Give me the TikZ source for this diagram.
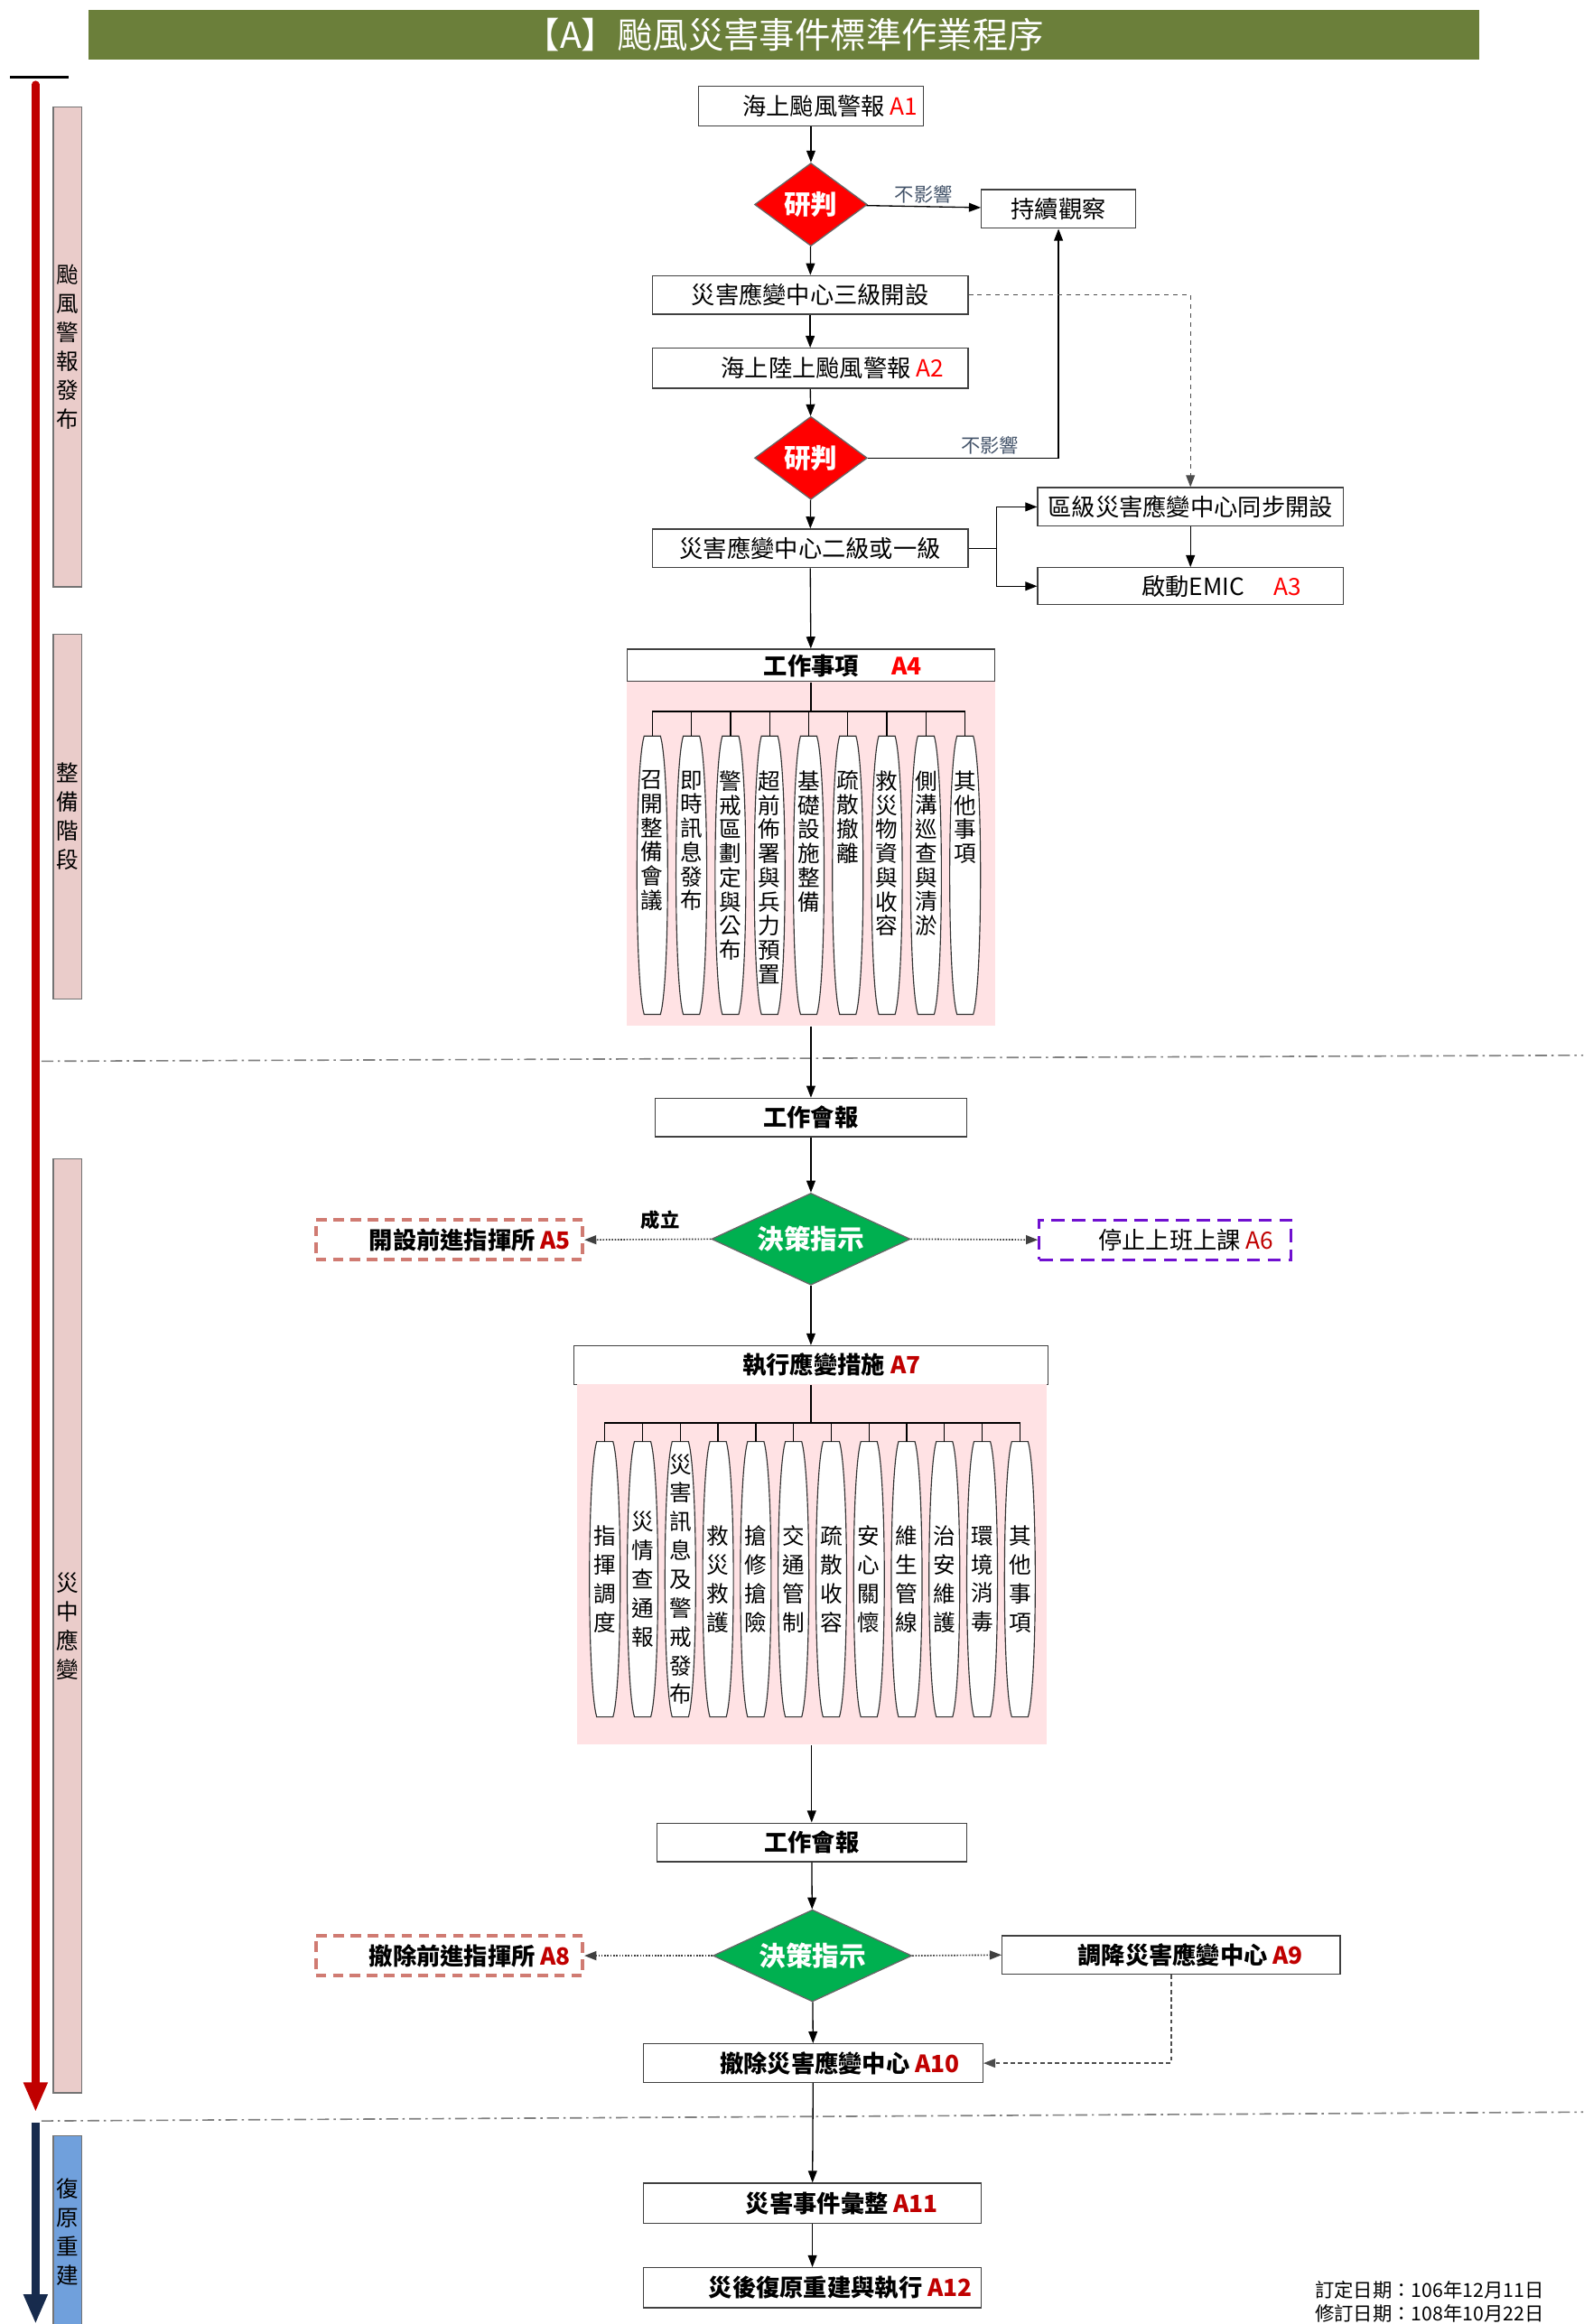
\documentclass[tikz,border=0pt]{standalone}
\usepackage{fontspec}
\setmainfont{Noto Sans CJK TC}
\usetikzlibrary{arrows.meta,shapes.geometric,positioning}

\XeTeXlinebreaklocale "zh"
\XeTeXlinebreakskip=0pt plus 1pt

\definecolor{titlegreen}{RGB}{107,127,58}
\definecolor{deepred}{RGB}{192,0,0}
\definecolor{navyblue}{RGB}{23,43,77}
\definecolor{phasepink}{RGB}{234,204,202}
\definecolor{phaseblue}{RGB}{112,160,220}
\definecolor{areapink}{RGB}{255,226,228}
\definecolor{decgreen}{RGB}{0,176,80}
\definecolor{salmon}{RGB}{208,123,114}
\definecolor{dashpurple}{RGB}{112,16,208}
\definecolor{notegray}{RGB}{68,84,106}

\newcommand{\codeA}[1]{\textcolor{red}{#1}}
\newcommand{\codeB}[1]{\textcolor{deepred}{#1}}
% barrel outline round an item node
\newcommand{\barrel}[1]{\draw[itemline] ([xshift=-5.5pt]#1.north) .. controls ([xshift=-12pt,yshift=-22pt]#1.north) and ([xshift=-12pt,yshift=22pt]#1.south) .. ([xshift=-5.5pt]#1.south) -- ([xshift=5.5pt]#1.south) .. controls ([xshift=12pt,yshift=22pt]#1.south) and ([xshift=12pt,yshift=-22pt]#1.north) .. ([xshift=5.5pt]#1.north) -- cycle;}

\tikzset{
	box/.style={draw=black!75, fill=white, line width=0.8pt, inner sep=0pt, minimum height=26pt, font=\fontsize{16}{18}\selectfont},
	boldbox/.style={box, font=\fontsize{16}{18}\selectfont\bfseries},
	tagged/.style={execute at begin node={\hspace*{#1}}},
	cmdbox/.style={boldbox, draw=salmon, line width=2.4pt, dash pattern=on 7pt off 4.5pt},
	judge/.style={diamond, aspect=1.4, draw=black!60, fill=red, text=white, inner sep=0pt, minimum width=76pt, minimum height=56pt, font=\fontsize{18}{20}\selectfont\bfseries},
	decide/.style={judge, aspect=2, fill=decgreen, minimum width=134pt, minimum height=62pt},
	area/.style={fill=areapink, inner sep=0pt},
	item/.style={minimum width=21pt, inner sep=0pt},
	itemline/.style={draw=black!80, fill=white, line width=0.7pt},
	itemtext/.style={text width=16pt, align=center, inner sep=0pt, font=\fontsize{15}{16.3}\selectfont},
	phase/.style={draw=black!55, fill=phasepink, minimum width=19pt, inner sep=0pt, text width=16pt, align=center, font=\fontsize{15}{19.5}\selectfont},
	note/.style={text=notegray, font=\fontsize{13}{15}\selectfont, inner sep=2pt},
	sep/.style={draw=black!50, line width=1pt, dash pattern=on 8pt off 3pt on 1.5pt off 3pt},
	dotlink/.style={->, densely dotted, line width=1pt, draw=black!75},
}

\begin{document}
\begin{tikzpicture}[x=1pt, y=-1pt, line width=0.8pt, >={Triangle[length=8pt,width=6pt]}]
	\useasboundingbox (0,0) rectangle (1068,1568);
	\node[fill=titlegreen, text=white, minimum width=938pt, minimum height=33pt, inner sep=0pt, font=\fontsize{24}{26}\selectfont] (title) at (529,23.5) {【A】颱風災害事件標準作業程序};

	% time line and phases
	\draw[line width=1.5pt] (7,52) -- (46,52);
	\draw[deepred, line width=5pt, line cap=round, -{Triangle[length=20pt,width=15pt]}] (24,57) -- (24,1425);
	\draw[navyblue, line width=5pt, -{Triangle[length=20pt,width=15pt]}] (24,1432) -- (24,1568);
	\node[phase, minimum height=324pt] (ph1) at (45.5,234) {颱風警報發布};
	\node[phase, minimum height=246pt] (ph2) at (45.5,551) {整備階段};
	\node[phase, minimum height=630pt] (ph3) at (45.5,1097) {災中應變};
	\node[phase, fill=phaseblue, minimum height=130pt] (ph4) at (45.5,1506) {復原重建};
	\draw[sep] (28,716) -- (1068,712);
	\draw[sep] (28,1431) -- (1068,1425);

	% warning stage
	\node[box, tagged=26pt, minimum width=152pt, minimum height=27pt] (a1) at (547,71.5) {海上颱風警報 \codeA{A1}};
	\node[judge] (j1) at (547,138) {研判};
	\node[box, minimum width=104pt] (chk) at (714,141) {持續觀察};
	\node[box, minimum width=213pt] (l3) at (546.5,199) {災害應變中心三級開設};
	\node[box, tagged=30pt, minimum width=213pt, minimum height=27pt] (a2) at (546.5,248.5) {海上陸上颱風警報 \codeA{A2}};
	\node[judge] (j2) at (547,309) {研判};
	\node[box, minimum width=213pt] (l2) at (546.5,370) {災害應變中心二級或一級};
	\node[box, minimum width=206pt] (dist) at (803,342) {區級災害應變中心同步開設};
	\node[box, tagged=42pt, minimum width=206pt, minimum height=25pt] (a3) at (803,395.5) {啟動EMIC\hspace{20pt}\codeA{A3}};

	% preparation
	\node[boldbox, tagged=43pt, minimum width=248pt, minimum height=22pt] (a4) at (547,449) {工作事項\hspace{22pt}\codeA{A4}};
	\node[area, minimum width=248pt, minimum height=232pt] (bg1) at (547,576) {};
	\coordinate (a4bar) at (547,480);
	\foreach \txt [count=\i] in {召開整備會議,即時訊息發布,警戒區劃定與公布,超前佈署與兵力預置,基礎設施整備,疏散撤離,救災物資與收容,側溝巡查與清淤,其他事項}
	{
		\node[item, minimum height=187pt] (w\i) at ({440+(\i-1)*26.375},590.5) {};
		\barrel{w\i}
		\node[itemtext, anchor=north] at ([yshift=-23pt]w\i.north) {\txt};
		\draw (w\i.north) |- (a4bar);
	}
	\draw (a4) -- (a4bar);

	% response
	\node[boldbox, minimum width=210pt] (work1) at (547,754) {工作會報};
	\node[decide] (dec1) at (547,836) {決策指示};
	\node[cmdbox, tagged=28pt, minimum width=180pt, minimum height=27pt] (a5) at (303,836.5) {開設前進指揮所 \codeB{A5}};
	\node[box, draw=dashpurple, line width=1.8pt, dash pattern=on 9pt off 5pt, tagged=28pt, minimum width=170pt, minimum height=27pt] (a6) at (786,836.5) {停止上班上課 \codeB{A6}};
	\node[boldbox, tagged=28pt, minimum width=320pt] (a7) at (547,921) {執行應變措施 \codeB{A7}};
	\node[area, minimum width=317pt, minimum height=243pt] (bg2) at (547.5,1055.5) {};
	\coordinate (a7bar) at (547,960);
	\foreach \txt [count=\i] in {指揮調度,災情查通報,災害訊息及警戒發布,救災救護,搶修搶險,交通管制,疏散收容,安心關懷,維生管線,治安維護,環境消毒,其他事項}
	{
		\node[item, minimum height=185pt] (r\i) at ({408+(\i-1)*25.45},1065.5) {};
		\barrel{r\i}
		\node[itemtext, font=\fontsize{15}{19.4}\selectfont] at (r\i) {\txt};
		\draw (r\i.north) |- (a7bar);
	}
	\draw (a7) -- (a7bar);
	\node[boldbox, minimum width=209pt] (work2) at (547.5,1243) {工作會報};
	\node[decide] (dec2) at (548,1319.5) {決策指示};
	\node[cmdbox, tagged=28pt, minimum width=180pt, minimum height=27pt] (a8) at (303,1319.5) {撤除前進指揮所 \codeB{A8}};
	\node[boldbox, tagged=26pt, minimum width=228pt] (a9) at (790,1319) {調降災害應變中心 \codeB{A9}};
	\node[boldbox, tagged=36pt, minimum width=229pt] (a10) at (548.5,1392) {撤除災害應變中心 \codeB{A10}};

	% recovery
	\node[boldbox, tagged=40pt, minimum width=228pt, minimum height=27pt] (a11) at (548,1486.5) {災害事件彙整 \codeB{A11}};
	\node[boldbox, tagged=38pt, minimum width=228pt, minimum height=27pt] (a12) at (548,1543.5) {災後復原重建與執行 \codeB{A12}};

	\node[anchor=east, inner sep=0pt, font=\fontsize{13}{15}\selectfont] (date1) at (1042,1545) {訂定日期：106年12月11日};
	\node[anchor=east, inner sep=0pt, font=\fontsize{13}{15}\selectfont] (date2) at (1042,1561) {修訂日期：108年10月22日};

	\path[->]
	(a1) edge (j1)
	(j1) edge node[note, above] {不影響} (chk)
	(j1) edge (l3)
	(l3) edge (a2)
	(a2) edge (j2)
	(j2) edge (l2)
	(dist) edge (a3)
	(l2) edge (a4)
	(bg1) edge (work1)
	(work1) edge (dec1)
	(dec1) edge (a7)
	(bg2) edge (work2)
	(work2) edge (dec2)
	(dec2) edge (a10)
	(a10) edge (a11)
	(a11) edge (a12)
	;
	\draw[->] (j2.east) -| node[note, above, pos=0.32] {不影響} (chk.south);
	\draw[->, dashed, draw=black!70] (l3.east) -| (dist.north);
	\coordinate (fork) at (672,370);
	\draw[->] (l2.east) -- (fork) |- (dist.west);
	\draw[->] (fork) |- (a3.west);
	\draw[dotlink] (dec1.west) -- node[above=3pt, pos=0.4, text=black, font=\fontsize{13}{15}\selectfont\bfseries] {成立} (a5.east);
	\draw[dotlink] (dec1.east) -- (a6.west);
	\draw[dotlink] (dec2.west) -- (a8.east);
	\draw[dotlink] (dec2.east) -- (a9.west);
	\draw[->, densely dashed, draw=black!70] (a9.south) |- (a10.east);
\end{tikzpicture}
\end{document}
